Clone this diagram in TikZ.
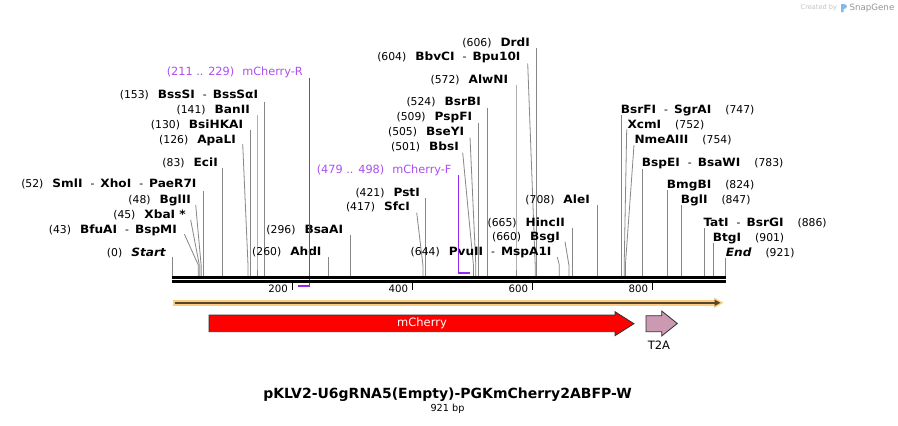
\documentclass[tikz,border=0pt]{standalone}
\usepackage{fontspec}
\setmainfont{DejaVu Sans}
\newfontface\enzboldface[FakeStretch=1.065]{DejaVu Sans Bold}
\newfontface\enzbiface[FakeStretch=1.065]{DejaVu Sans Bold Oblique}
\usetikzlibrary{arrows.meta}
\definecolor{cutgray}{RGB}{135,135,135}
\definecolor{primerline}{RGB}{150,40,235}
\definecolor{primertext}{RGB}{170,80,240}
\definecolor{bandorange}{RGB}{250,205,130}
\definecolor{banddark}{RGB}{85,70,45}
\definecolor{outl}{RGB}{50,50,50}
\definecolor{t2afill}{RGB}{204,153,179}
\definecolor{wmlight}{RGB}{195,195,195}
\definecolor{wmdark}{RGB}{150,150,150}
\definecolor{wmblue}{RGB}{130,185,235}
\newcommand\enzB[1]{{\enzboldface\fontsize{11.4}{13}\selectfont #1}}
\newcommand\enzBI[1]{{\enzbiface\fontsize{11.4}{13}\selectfont #1}}
\newcommand\enzP[1]{(#1)\hspace{9pt}}
\newcommand\enzS{\hspace{8pt}-\hspace{6pt}}
\newcommand\enzR[1]{\hspace{14pt}(#1)}
% left label: id, text right x, centre y, line top x, line top y, site x, text
\newcommand\LE[7]{\node[lbl,anchor=east] (#1) at (#2,#3) {#7};
  \coordinate (#1t) at (#4,#5); \coordinate (#1s) at (#6,276);
  \draw[cutline] (#1t) -- (#6,265) -- (#1s);}
% right label: id, text left x, centre y, line top x, line top y, site x, text
\newcommand\RE[7]{\node[lbl,anchor=west] (#1) at (#2,#3) {#7};
  \coordinate (#1t) at (#4,#5); \coordinate (#1s) at (#6,276);
  \draw[cutline] (#1t) -- (#6,265) -- (#1s);}
\begin{document}
\begin{tikzpicture}[x=1pt,y=-1pt,
  lbl/.style={inner sep=0pt,text height=8.3pt,text depth=0pt,font=\fontsize{10.8}{12}\selectfont},
  cutline/.style={draw=cutgray,line width=0.8pt},
  tickmark/.style={line width=1.5pt},
  ticklbl/.style={inner sep=0pt,anchor=east,font=\fontsize{10.2}{12}\selectfont},
  primerlbl/.style={inner sep=0pt,text height=8.3pt,text depth=0pt,anchor=east,text=primertext,font=\fontsize{11.3}{13}\selectfont},
  featbox/.style={draw=outl,line width=0.8pt}]
\useasboundingbox (0,0) rectangle (898,426);
\fill[white] (0,0) rectangle (898,426);

% watermark
\node[inner sep=0pt,anchor=west,text=wmlight,font=\fontsize{6.6}{8}\selectfont] (wm1) at (800.5,8) {Created by};
\fill[wmblue] (841,4) rectangle (843.5,12) (843.5,4) .. controls (848,4) and (848,9) .. (843.5,9) -- cycle;
\node[inner sep=0pt,anchor=west,text=wmdark,font=\fontsize{8.7}{10}\selectfont] (wm2) at (849.3,8) {SnapGene};

% left-side enzyme labels
\LE{eStart}{166}{252}{172.3}{257}{172.3}{\enzP{0}\enzBI{Start}}
\LE{e43}{177}{229}{184.3}{234}{198.3}{\enzP{43}\enzB{BfuAI}\enzS\enzB{BspMI}}
\LE{e45}{186}{214}{190.7}{220}{199.3}{\enzP{45}\enzB{XbaI *}}
\LE{e48}{191}{199}{195.7}{205}{201.1}{\enzP{48}\enzB{BglII}}
\LE{e52}{196.7}{183.5}{203.5}{191}{203.5}{\enzP{52}\enzB{SmlI}\enzS\enzB{XhoI}\enzS\enzB{PaeR7I}}
\LE{e83}{218}{162}{222.2}{168}{222.2}{\enzP{83}\enzB{EciI}}
\LE{e126}{236}{139}{242.7}{144}{248}{\enzP{126}\enzB{ApaLI}}
\LE{e130}{243.3}{124}{250.4}{130}{250.4}{\enzP{130}\enzB{BsiHKAI}}
\LE{e141}{250}{109}{257}{115}{257}{\enzP{141}\enzB{BanII}}
\LE{e153}{258.3}{94}{264.2}{101.7}{264.2}{\enzP{153}\enzB{BssSI}\enzS\enzB{BssSαI}}
\LE{e260}{321.7}{251.7}{328.5}{257}{328.5}{\enzP{260}\enzB{AhdI}}
\LE{e296}{343.3}{229}{350.2}{235}{350.2}{\enzP{296}\enzB{BsaAI}}
\LE{e417}{410}{206.7}{416.7}{212.7}{422.9}{\enzP{417}\enzB{SfcI}}
\LE{e421}{420}{192.3}{425.3}{198.3}{425.3}{\enzP{421}\enzB{PstI}}
\LE{e501}{459}{146.7}{462.7}{152.7}{473.4}{\enzP{501}\enzB{BbsI}}
\LE{e505}{464.3}{131.7}{470}{137.3}{475.8}{\enzP{505}\enzB{BseYI}}
\LE{e509}{472.3}{116.7}{478.2}{123.3}{478.2}{\enzP{509}\enzB{PspFI}}
\LE{e524}{481}{101.7}{487.2}{108.3}{487.2}{\enzP{524}\enzB{BsrBI}}
\LE{e572}{508.3}{79}{516}{85}{516}{\enzP{572}\enzB{AlwNI}}
\LE{e604}{520.7}{56.7}{527.7}{63.3}{535.2}{\enzP{604}\enzB{BbvCI}\enzS\enzB{Bpu10I}}
\LE{e606}{530}{42.3}{536.4}{48.3}{536.4}{\enzP{606}\enzB{DrdI}}
\LE{e644}{551.7}{251.7}{557.3}{257}{559.3}{\enzP{644}\enzB{PvuII}\enzS\enzB{MspA1I}}
\LE{e660}{560}{236.7}{565}{241.7}{568.9}{\enzP{660}\enzB{BsgI}}
\LE{e665}{565}{222}{571.9}{228.3}{571.9}{\enzP{665}\enzB{HincII}}
\LE{e708}{590}{199}{597.7}{205}{597.7}{\enzP{708}\enzB{AleI}}

% right-side enzyme labels
\RE{e747}{620.7}{109}{621.2}{115}{621.2}{\enzB{BsrFI}\enzS\enzB{SgrAI}\enzR{747}}
\RE{e752}{627.3}{124}{626.7}{129.3}{624.2}{\enzB{XcmI}\enzR{752}}
\RE{e754}{634.3}{139}{634}{145}{625.4}{\enzB{NmeAIII}\enzR{754}}
\RE{e783}{641.7}{162.3}{642.8}{169.3}{642.8}{\enzB{BspEI}\enzS\enzB{BsaWI}\enzR{783}}
\RE{e824}{666.7}{184}{667.4}{190}{667.4}{\enzB{BmgBI}\enzR{824}}
\RE{e847}{680.7}{199.3}{681.1}{205}{681.1}{\enzB{BglI}\enzR{847}}
\RE{e886}{703.3}{222.3}{704.5}{228.3}{704.5}{\enzB{TatI}\enzS\enzB{BsrGI}\enzR{886}}
\RE{e901}{712.7}{237.3}{713.5}{243.3}{713.5}{\enzB{BtgI}\enzR{901}}
\RE{eEnd}{725.7}{252.3}{725.7}{258.3}{725.7}{\enzBI{End}\enzR{921}}

% primers
\node[primerlbl] (pR) at (303,71.7) {(211 .. 229)\hspace{8pt}mCherry-R};
\coordinate (pRt) at (309.7,78);
\coordinate (pRb) at (309.7,285.7);
\coordinate (pRe) at (298.3,285.7);
\draw[primerline,line width=1pt] (pRt) -- (pRb);
\draw[primerline,line width=2pt] ([xshift=0.5pt]pRb) -- (pRe);
\node[primerlbl] (pF) at (451.7,169.3) {(479 .. 498)\hspace{8pt}mCherry-F};
\coordinate (pFt) at (458,175);
\coordinate (pFb) at (458,272.7);
\coordinate (pFe) at (470,272.7);
\draw[primerline,line width=1pt] (pFt) -- (pFb);
\draw[primerline,line width=2pt] ([xshift=-0.5pt]pFb) -- (pFe);

% sequence bar
\draw[line width=3pt] (172,277.5) -- (726,277.5);
\draw[line width=2.7pt] (172,281.4) -- (726,281.4);

% ticks
\foreach \tx/\tl in {292.3/200,412.5/400,532.5/600,652.7/800}{
  \draw[tickmark] (\tx,282.7) -- (\tx,289.5);
  \node[ticklbl] (tick\tl) at (\tx-4.3,289) {\tl};
}

% orange direction arrow
\draw[bandorange,line width=5.7pt] (172.7,302.8) -- (716,302.8);
\fill[bandorange] (714,297.5) -- (723.5,302.8) -- (714,308.1) -- cycle;
\draw[banddark,line width=1.4pt,-{Triangle[length=6pt,width=6pt]}] (174.5,302.8) -- (720.5,302.8);

% mCherry feature
\draw[featbox,fill=red] (209,315) -- (615,315) -- (615,311.7) -- (634,323.7) -- (615,335.7) -- (615,331.7) -- (209,331.7) -- cycle;
\node[inner sep=0pt,text=white,font=\fontsize{11.5}{13}\selectfont] (mch) at (422,323.5) {mCherry};

% T2A feature
\draw[featbox,fill=t2afill] (646,315.7) -- (661.7,315.7) -- (661.7,311) -- (677.3,323.5) -- (661.7,336) -- (661.7,331.7) -- (646,331.7) -- cycle;
\node[inner sep=0pt,font=\fontsize{11.5}{13}\selectfont] (t2a) at (659,345.5) {T2A};

% title
\node[inner sep=0pt,font=\bfseries\fontsize{14}{16}\selectfont] (title) at (447.5,395) {pKLV2-U6gRNA5(Empty)-PGKmCherry2ABFP-W};
\node[inner sep=0pt,font=\fontsize{9.7}{11}\selectfont] (bp) at (447.5,409) {921 bp};
\end{tikzpicture}
\end{document}
